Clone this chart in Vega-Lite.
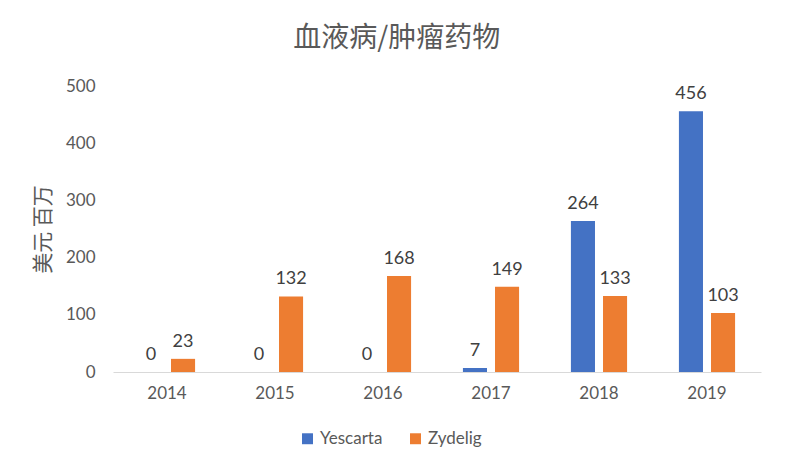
{
  "$schema": "https://vega.github.io/schema/vega-lite/v6.json",
  "width": 648,
  "height": 286,
  "autosize": "none",
  "padding": {"left": 113, "top": 86, "right": 27, "bottom": 102},
  "background": "white",
  "title": {"text": "血液病/肿瘤药物", "fontSize": 28, "font": "Noto Sans CJK SC", "fontWeight": "normal", "color": "#595959", "anchor": "middle", "frame": "bounds", "offset": 24},
  "data": {"values": [
    {"year": "2014", "drug": "Yescarta", "value": 0},
    {"year": "2014", "drug": "Zydelig", "value": 23},
    {"year": "2015", "drug": "Yescarta", "value": 0},
    {"year": "2015", "drug": "Zydelig", "value": 132},
    {"year": "2016", "drug": "Yescarta", "value": 0},
    {"year": "2016", "drug": "Zydelig", "value": 168},
    {"year": "2017", "drug": "Yescarta", "value": 7},
    {"year": "2017", "drug": "Zydelig", "value": 149},
    {"year": "2018", "drug": "Yescarta", "value": 264},
    {"year": "2018", "drug": "Zydelig", "value": 133},
    {"year": "2019", "drug": "Yescarta", "value": 456},
    {"year": "2019", "drug": "Zydelig", "value": 103}
  ]},
  "encoding": {
    "x": {"field": "year", "type": "nominal", "scale": {"paddingInner": 0.48, "paddingOuter": 0.24},
      "axis": {"title": null, "labelAngle": 0, "labelFontSize": 17, "labelColor": "#595959", "labelFont": "Lato", "ticks": false, "domainColor": "#d9d9d9", "labelPadding": 13, "grid": false}},
    "xOffset": {"field": "drug", "type": "nominal", "scale": {"paddingInner": 0.25}},
    "y": {"field": "value", "type": "quantitative", "scale": {"domain": [0, 500]},
      "axis": {"title": "美元 百万", "titleFont": "Noto Sans CJK SC", "titleFontSize": 21, "titleFontWeight": "normal", "titleColor": "#595959", "titlePadding": 12, "values": [0,100,200,300,400,500], "labelOverlap": false, "labelFontSize": 17, "labelColor": "#595959", "labelFont": "Lato", "ticks": false, "domain": false, "grid": false, "labelPadding": 18}}
  },
  "layer": [
    {"mark": {"type": "bar"},
     "encoding": {"color": {"field": "drug", "type": "nominal", "scale": {"domain": ["Yescarta", "Zydelig"], "range": ["#4472c4", "#ed7d31"]},
       "legend": {"title": null, "orient": "none", "direction": "horizontal", "legendX": 186, "legendY": 344, "symbolType": "square", "symbolSize": 120, "labelFontSize": 17, "labelColor": "#595959", "labelFont": "Lato", "columnPadding": 24, "symbolStrokeWidth": 0}}}},
    {"mark": {"type": "text", "baseline": "bottom", "dy": -8, "fontSize": 18, "font": "Lato", "color": "#404040"},
     "encoding": {"text": {"field": "value", "type": "quantitative"}}}
  ],
  "config": {"view": {"stroke": null}}
}
